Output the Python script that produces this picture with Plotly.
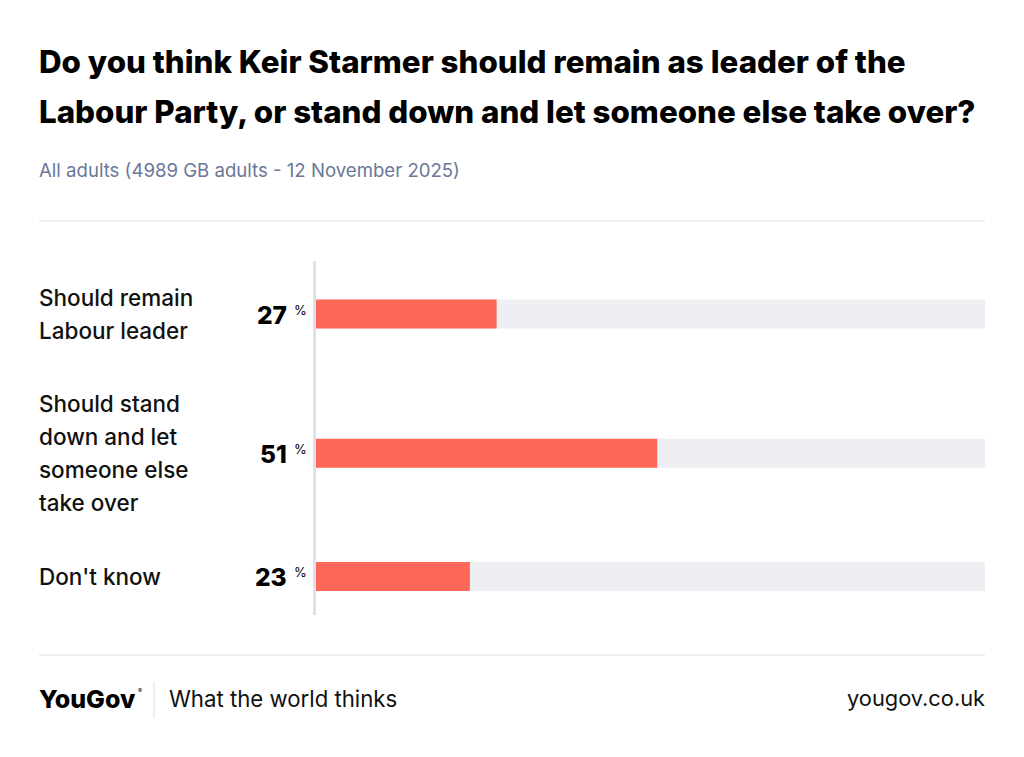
import plotly.graph_objects as go

W, H = 1024, 757

title_lines = ["Do you think Keir Starmer should remain as leader of the",
               "Labour Party, or stand down and let someone else take over?"]
subtitle = "All adults (4989 GB adults - 12 November 2025)"
categories = ["Should remain\nLabour leader",
              "Should stand\ndown and let\nsomeone else\ntake over",
              "Don't know"]
values = [27, 51, 23]
footer_brand = "YouGov"
footer_tag = "What the world thinks"
footer_url = "yougov.co.uk"

FONT = "Inter"
BAR = "#FF6859"
TRACK = "#EEEFF3"
AXIS = "#DDE1E9"

# layout: row heights derived from number of label lines
LINE_H = 33
PAD = 42
lines = [c.split("\n") for c in categories]
heights = [len(l) * LINE_H + PAD for l in lines]
centers = []
acc = 0
for h in heights:
    centers.append(acc + h / 2)
    acc += h
total = acc

x0, x1 = 316, 985
y_top, y_bot = 260.5, 613.5

def px(x):
    return x / W

def py(y):
    return 1 - y / H

scale = total / (y_bot - y_top)

fig = go.Figure()
fig.add_trace(go.Bar(x=[100] * len(values), y=centers, orientation="h",
                     marker=dict(color=TRACK, line=dict(width=0)), width=29 * scale,
                     hoverinfo="skip", showlegend=False))
fig.add_trace(go.Bar(x=values, y=centers, orientation="h",
                     marker=dict(color=BAR, line=dict(width=0)), width=29 * scale,
                     showlegend=False))

fig.update_layout(
    width=W, height=H, margin=dict(l=0, r=0, t=0, b=0),
    paper_bgcolor="white", plot_bgcolor="white", barmode="overlay",
    font=dict(family=FONT, color="#111111"),
    xaxis=dict(domain=[px(x0), px(x1)], range=[0, 100], visible=False, fixedrange=True),
    yaxis=dict(domain=[py(y_bot), py(y_top)], range=[total, 0], visible=False, fixedrange=True),
)

ann = []
# title
for i, t in enumerate(title_lines):
    ann.append(dict(text=t, x=px(37), y=py(62 + i * 50), xref="paper", yref="paper",
                    xanchor="left", yanchor="middle", showarrow=False,
                    font=dict(size=31.3, color="#000000", family=FONT, weight=800)))
ann.append(dict(text=subtitle, x=px(37), y=py(170), xref="paper", yref="paper",
                xanchor="left", yanchor="middle", showarrow=False,
                font=dict(size=18.6, color="#6A7898", family=FONT)))
# category labels, one annotation per line
for ls, c in zip(lines, centers):
    n = len(ls)
    for j, s in enumerate(ls):
        yy = c + (j - (n - 1) / 2) * LINE_H * scale
        ann.append(dict(text=s, x=px(37), y=yy, xref="paper", yref="y",
                        xanchor="left", yanchor="middle", showarrow=False,
                        font=dict(size=22.5, color="#111111", family=FONT, weight=500)))
# value labels
for v, c in zip(values, centers):
    ann.append(dict(text=str(v), x=px(289), y=c, xref="paper", yref="y",
                    xanchor="right", yanchor="middle", showarrow=False, yshift=-1,
                    font=dict(size=24.5, color="#000000", family=FONT, weight=800)))
    ann.append(dict(text="%", x=px(292), y=c, xref="paper", yref="y",
                    xanchor="left", yanchor="middle", showarrow=False, yshift=4,
                    font=dict(size=13, color="#000000", family=FONT)))
# footer
ann.append(dict(text=footer_brand, x=px(37), y=py(699), xref="paper", yref="paper",
                xanchor="left", yanchor="middle", showarrow=False,
                font=dict(size=25, color="#000000", family=FONT, weight=800)))
ann.append(dict(text="®", x=px(136), y=py(690), xref="paper", yref="paper",
                xanchor="left", yanchor="middle", showarrow=False,
                font=dict(size=6, color="#000000", family=FONT)))
ann.append(dict(text=footer_tag, x=px(167), y=py(698), xref="paper", yref="paper",
                xanchor="left", yanchor="middle", showarrow=False,
                font=dict(size=22.2, color="#111111", family=FONT)))
ann.append(dict(text=footer_url, x=px(987), y=py(698), xref="paper", yref="paper",
                xanchor="right", yanchor="middle", showarrow=False,
                font=dict(size=21.8, color="#111111", family=FONT)))

shapes = [
    dict(type="line", xref="paper", yref="paper", x0=px(39), x1=px(985), y0=py(221), y1=py(221),
         line=dict(color="#DCDDE2", width=1)),
    dict(type="line", xref="paper", yref="paper", x0=px(39), x1=px(985), y0=py(655), y1=py(655),
         line=dict(color="#DCDDE2", width=1)),
    dict(type="line", xref="paper", yref="paper", x0=px(314.5), x1=px(314.5), y0=py(261), y1=py(615),
         line=dict(color=AXIS, width=3)),
    dict(type="line", xref="paper", yref="paper", x0=px(154), x1=px(154), y0=py(682), y1=py(718),
         line=dict(color="#DCDDE2", width=1)),
]
fig.update_layout(annotations=ann, shapes=shapes)
fig.write_html("out.html")
